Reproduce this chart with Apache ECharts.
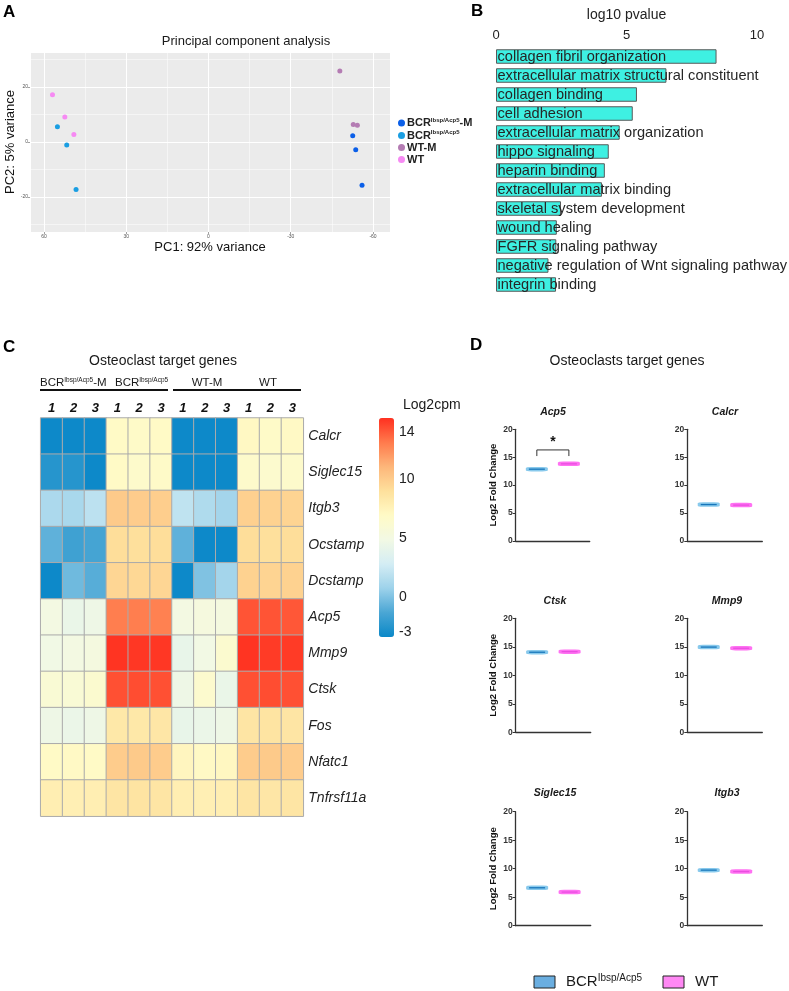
<!DOCTYPE html>
<html><head><meta charset="utf-8">
<script src="https://cdn.jsdelivr.net/npm/echarts@6/dist/echarts.min.js"></script>
<style>html,body{margin:0;padding:0;background:#fff}#c{width:789px;height:991px}</style>
</head><body><div id="c"></div>
<script>
// ---------- Panel A : PCA ----------
const pcaGroups = ['BCR-M', 'BCR', 'WT-M', 'WT'];
const pcaBCRM = [[-52.6, 2.3], [-53.7, -2.8], [-56.0, -15.7]];
const pcaBCR  = [[55.1, 5.5], [51.7, -1.1], [48.3, -17.3]];
const pcaWTM  = [[-47.9, 25.8], [-52.8, 6.4], [-54.3, 6.1]];
const pcaWT   = [[56.9, 17.2], [52.4, 9.1], [49.1, 2.7]];
const pcaMinorX = [-45, -15, 15, 45];
const pcaMinorY = [-30, -10, 10, 30];

// ---------- Panel B : GO terms ----------
const goTerms = ['collagen fibril organization', 'extracellular matrix structural constituent',
  'collagen binding', 'cell adhesion', 'extracellular matrix organization', 'hippo signaling',
  'heparin binding', 'extracellular matrix binding', 'skeletal system development', 'wound healing',
  'FGFR signaling pathway', 'negative regulation of Wnt signaling pathway', 'integrin binding'];
const goLog10P = [8.45, 6.53, 5.40, 5.24, 4.74, 4.32, 4.17, 4.06, 2.49, 2.33, 2.31, 2.01, 2.30];

// ---------- Panel C : heatmap ----------
const heatGenes = ['Calcr', 'Siglec15', 'Itgb3', 'Ocstamp', 'Dcstamp', 'Acp5', 'Mmp9', 'Ctsk', 'Fos', 'Nfatc1', 'Tnfrsf11a'];
const heatSamples = ['BCR-M 1', 'BCR-M 2', 'BCR-M 3', 'BCR 1', 'BCR 2', 'BCR 3', 'WT-M 1', 'WT-M 2', 'WT-M 3', 'WT 1', 'WT 2', 'WT 3'];
const hCalcr    = [-3.3, -3.3, -3.3, 6.9, 6.8, 6.9, -3.3, -3.3, -3.3, 7.1, 6.8, 7.0];
const hSiglec15 = [-2.5, -2.5, -3.3, 6.9, 6.6, 6.8, -3.3, -3.3, -3.3, 6.6, 6.4, 6.6];
const hItgb3    = [1.3, 1.2, 1.9, 10.1, 10.0, 9.9, 2.0, 1.4, 1.0, 9.8, 9.7, 9.6];
const hOcstamp  = [-0.8, -1.7, -1.5, 9.1, 9.0, 9.1, -0.8, -3.3, -3.3, 9.1, 9.0, 9.1];
const hDcstamp  = [-3.3, -0.4, -1.0, 9.5, 9.4, 9.5, -3.3, 0.0, 1.0, 9.7, 9.6, 9.7];
const hAcp5     = [5.0, 4.3, 4.6, 13.0, 13.0, 12.9, 5.0, 5.3, 5.2, 14.2, 14.2, 14.1];
const hMmp9     = [4.8, 5.0, 5.2, 15.1, 15.0, 15.0, 4.2, 4.9, 6.3, 15.1, 14.9, 14.9];
const hCtsk     = [6.0, 5.9, 6.3, 14.3, 14.4, 14.3, 4.6, 6.4, 4.3, 14.3, 14.4, 14.3];
const hFos      = [4.6, 4.4, 4.6, 8.4, 8.4, 8.5, 4.2, 4.4, 4.6, 8.6, 8.7, 8.6];
const hNfatc1   = [6.9, 7.0, 6.9, 10.0, 10.1, 10.0, 7.3, 7.0, 7.2, 10.0, 10.1, 10.0];
const hTnfrsf11a= [7.9, 7.8, 7.9, 8.6, 8.7, 8.6, 7.9, 7.8, 7.9, 8.6, 8.5, 8.6];
const heatRows = [hCalcr, hSiglec15, hItgb3, hOcstamp, hDcstamp, hAcp5, hMmp9, hCtsk, hFos, hNfatc1, hTnfrsf11a];
const heatScaleLabels = [-3, 0, 5, 10, 14];
const heatMin = -3.4, heatMax = 15.2;

// ---------- Panel D : violins ----------
const dGenes = ['Acp5', 'Calcr', 'Ctsk', 'Mmp9', 'Siglec15', 'Itgb3'];
const dGroups = ['BCR', 'WT'];
const dBCR = [12.85, 6.5, 14.05, 14.95, 6.65, 9.75];
const dWT  = [13.8, 6.4, 14.15, 14.75, 5.9, 9.5];
const dSig = [[0, 0, 1, 16.3, 15.2]]; // [geneIndex, fromGroup, toGroup, top, leg]

// ---------- build ----------
const F = 'Liberation Sans, Arial, Helvetica, sans-serif';
const chart = echarts.init(document.getElementById('c'));

const heatData = [];
heatRows.forEach((row, r) => row.forEach((v, c) => heatData.push([c, r, v])));

const dLayout = [
  {left: 515.7, top: 429.3, width: 74, height: 111.5, tx: 553, ty: 412},
  {left: 687.3, top: 429.3, width: 75, height: 111.5, tx: 725, ty: 412},
  {left: 515.7, top: 618.3, width: 75, height: 114, tx: 555, ty: 601},
  {left: 687.3, top: 618.3, width: 75, height: 114, tx: 727, ty: 601},
  {left: 515.7, top: 811.7, width: 75, height: 114, tx: 555, ty: 793},
  {left: 687.3, top: 811.7, width: 75, height: 114, tx: 727, ty: 793}
];

const grids = [
  {left: 30, top: 52, width: 360, height: 180, show: true, backgroundColor: '#ebebeb', borderWidth: 0},
  {left: 496, top: 47, width: 261, height: 247},
  {left: 40.7, top: 418, width: 262.6, height: 398.2},
  {left: 379, top: 418, width: 15, height: 219}
];
dLayout.forEach(l => grids.push({left: l.left, top: l.top, width: l.width, height: l.height}));

const tinyLbl = {fontSize: 5, color: '#555', fontFamily: F, margin: 2};
const xAxes = [
  {gridIndex: 0, type: 'value', inverse: true, min: -66.2, max: 65.1, splitNumber: 5,
   axisLine: {show: false, onZero: false}, axisTick: {length: 2, lineStyle: {color: '#444', width: 0.5}},
   axisLabel: Object.assign({showMinLabel: false, showMaxLabel: false}, tinyLbl),
   splitLine: {show: true, lineStyle: {color: '#fff', width: 1}},
   name: 'PC1: 92% variance', nameLocation: 'middle', nameGap: 9,
   nameTextStyle: {fontSize: 13, color: '#111', fontFamily: F}},
  {gridIndex: 1, type: 'value', position: 'top', min: 0, max: 10, interval: 5, offset: 5,
   axisLine: {onZero: false, lineStyle: {color: '#333', width: 1}}, axisTick: {length: 3, lineStyle: {color: '#333'}},
   axisLabel: {fontSize: 13, color: '#222', fontFamily: F, margin: 0.5},
   splitLine: {show: false},
   name: 'log10 pvalue', nameLocation: 'middle', nameGap: 20,
   nameTextStyle: {fontSize: 14, color: '#222', fontFamily: F}},
  {gridIndex: 2, type: 'category', data: heatSamples, position: 'top',
   axisLine: {show: false}, axisTick: {show: false},
   axisLabel: {formatter: v => v.slice(-1), fontSize: 13, fontWeight: 'bold', fontStyle: 'italic', color: '#111', fontFamily: F, margin: 3}},
  {gridIndex: 3, type: 'value', show: false}
];
const yAxes = [
  {gridIndex: 0, type: 'value', min: -32.7, max: 32.7, splitNumber: 3,
   axisLine: {show: false, onZero: false}, axisTick: {length: 2, lineStyle: {color: '#444', width: 0.5}},
   axisLabel: Object.assign({showMinLabel: false, showMaxLabel: false}, tinyLbl),
   splitLine: {show: true, lineStyle: {color: '#fff', width: 1}},
   name: 'PC2: 5% variance', nameLocation: 'middle', nameGap: 2,
   nameTextStyle: {fontSize: 13, color: '#111', fontFamily: F}},
  {gridIndex: 1, type: 'category', data: goTerms, inverse: true, show: false},
  {gridIndex: 2, type: 'category', data: heatGenes, inverse: true, position: 'right',
   axisLine: {show: false}, axisTick: {show: false},
   axisLabel: {fontSize: 14, fontStyle: 'italic', color: '#222', fontFamily: F, margin: 5}},
  {gridIndex: 3, type: 'value', min: heatMin, max: heatMax, position: 'right',
   axisLine: {show: false, onZero: false}, axisTick: {show: false}, splitLine: {show: false},
   axisLabel: {customValues: heatScaleLabels, fontSize: 14, color: '#222', fontFamily: F, margin: 5}}
];
dLayout.forEach((l, i) => {
  xAxes.push({gridIndex: 4 + i, type: 'value', min: -0.66, max: 1.65,
    axisLine: {onZero: false, lineStyle: {color: '#333', width: 1.3}}, axisTick: {show: false}, axisLabel: {show: false},
    splitLine: {show: false}});
  yAxes.push({gridIndex: 4 + i, type: 'value', min: 0, max: 20, interval: 5, position: 'left',
    axisLine: {show: true, onZero: false, lineStyle: {color: '#333', width: 1.3}},
    axisTick: {show: true, length: 3, lineStyle: {color: '#333', width: 1}},
    axisLabel: {fontSize: 8.5, fontWeight: 'bold', color: '#333', fontFamily: F, margin: 3},
    splitLine: {show: false},
    name: i % 2 === 0 ? 'Log2 Fold Change' : '', nameLocation: 'middle', nameGap: 17,
    nameTextStyle: {fontSize: 9.5, fontWeight: 'bold', color: '#111', fontFamily: F}});
});

const pcaColors = ['#0b5fe8', '#1a9ee2', '#b47cb3', '#f68af3'];
const pcaData = [pcaBCRM, pcaBCR, pcaWTM, pcaWT];
const series = [];
pcaGroups.forEach((g, i) => series.push({
  name: g, type: 'scatter', xAxisIndex: 0, yAxisIndex: 0, data: pcaData[i],
  symbolSize: 5, itemStyle: {color: pcaColors[i], opacity: 1}, z: 3,
  markLine: i === 0 ? {silent: true, symbol: ['none', 'none'], z: 1, label: {show: false},
    lineStyle: {color: '#fff', width: 0.5, type: 'solid'},
    data: pcaMinorX.map(v => ({xAxis: v})).concat(pcaMinorY.map(v => ({yAxis: v})))} : undefined
}));
series.push({
  type: 'bar', xAxisIndex: 1, yAxisIndex: 1, data: goLog10P, barWidth: 14.5,
  itemStyle: {color: '#3ef0e2', borderColor: '#5a5a5a', borderWidth: 1},
  label: {show: true, position: 'insideLeft', distance: 1.5, formatter: '{b}', color: '#262626', fontSize: 14.6, fontFamily: F},
  silent: true
});
const heatIdx = series.length;
series.push({
  type: 'heatmap', xAxisIndex: 2, yAxisIndex: 2, data: heatData,
  itemStyle: {borderColor: '#ababab', borderWidth: 1}, silent: true
});
const vFill = ['#88c9ec', '#ff70f2'];
const vLine = ['#1776ba', '#e94ee0'];
dGenes.forEach((g, i) => {
  const pts = [[0, dBCR[i]], [1, dWT[i]]];
  series.push({type: 'scatter', xAxisIndex: 4 + i, yAxisIndex: 4 + i, data: pts, silent: true,
    symbol: 'roundRect', symbolSize: [22, 4.5], itemStyle: {color: p => vFill[p.dataIndex], opacity: 1}});
  series.push({type: 'scatter', xAxisIndex: 4 + i, yAxisIndex: 4 + i, data: pts, silent: true,
    symbol: 'rect', symbolSize: [16, 1.3], itemStyle: {color: p => vLine[p.dataIndex], opacity: 1}, z: 3});
});
dSig.forEach(s => series.push({
  type: 'custom', xAxisIndex: 4 + s[0], yAxisIndex: 4 + s[0], data: [s.slice(1)], silent: true,
  renderItem: (params, api) => {
    const a = api.coord([api.value(0), api.value(2)]);
    const b = api.coord([api.value(1), api.value(2)]);
    const leg = api.coord([api.value(0), api.value(3)]);
    return {type: 'group', children: [
      {type: 'polyline', shape: {points: [[a[0], leg[1]], a, b, [b[0], leg[1]]]},
       style: {stroke: '#333', lineWidth: 1, fill: null}},
      {type: 'text', style: {text: '*', x: (a[0] + b[0]) / 2, y: a[1] - 1, align: 'center', verticalAlign: 'bottom',
        fontSize: 14, fontWeight: 'bold', fill: '#111', fontFamily: F}}
    ]};
  }
}));

const txt = (text, x, y, o) => ({type: 'text', silent: true, style: Object.assign({text, x, y, fill: '#1a1a1a',
  fontFamily: F, fontSize: 14, align: 'center', verticalAlign: 'middle'}, o || {})});
const supRich = (b, s) => ({b: {fontSize: b, fontFamily: F, fill: '#1a1a1a', lineHeight: b + 2},
  s: {fontSize: s, fontFamily: F, fill: '#1a1a1a', verticalAlign: 'top', lineHeight: s + 1}});

const graphics = [
  txt('A', 3, 12, {fontSize: 17, fontWeight: 'bold', align: 'left', fill: '#000'}),
  txt('B', 471, 11, {fontSize: 17, fontWeight: 'bold', align: 'left', fill: '#000'}),
  txt('C', 3, 347, {fontSize: 17, fontWeight: 'bold', align: 'left', fill: '#000'}),
  txt('D', 470, 345, {fontSize: 17, fontWeight: 'bold', align: 'left', fill: '#000'}),
  txt('Principal component analysis', 246, 41, {fontSize: 13}),
  txt('Osteoclast target genes', 163, 361, {fontSize: 14}),
  txt('Osteoclasts target genes', 627, 361, {fontSize: 14}),
  txt('{b|BCR}{s|Ibsp/Acp5}{b|-M}', 40, 383, {align: 'left', rich: supRich(11.5, 6.5)}),
  txt('{b|BCR}{s|Ibsp/Acp5}', 115, 383, {align: 'left', rich: supRich(11.5, 6.5)}),
  txt('WT-M', 207, 383, {fontSize: 11.5}),
  txt('WT', 268, 383, {fontSize: 11.5}),
  {type: 'line', silent: true, shape: {x1: 40, y1: 390, x2: 168, y2: 390}, style: {stroke: '#111', lineWidth: 2}},
  {type: 'line', silent: true, shape: {x1: 173, y1: 390, x2: 301, y2: 390}, style: {stroke: '#111', lineWidth: 2}},
  txt('Log2cpm', 403, 405, {align: 'left', fontSize: 14}),
  {type: 'rect', silent: true, shape: {x: 534, y: 976, width: 21, height: 12}, style: {fill: '#6aaee0', stroke: '#222', lineWidth: 1}},
  txt('{b|BCR}{s|Ibsp/Acp5}', 566, 982, {align: 'left', rich: supRich(15, 10)}),
  {type: 'rect', silent: true, shape: {x: 663, y: 976, width: 21, height: 12}, style: {fill: '#ff88f4', stroke: '#222', lineWidth: 1}},
  txt('WT', 695, 982, {align: 'left', fontSize: 15})
];
dLayout.forEach((l, i) => graphics.push(txt(dGenes[i], l.tx, l.ty,
  {fontSize: 10.5, fontWeight: 'bold', fontStyle: 'italic'})));

chart.setOption({
  animation: false,
  textStyle: {fontFamily: F},
  grid: grids, xAxis: xAxes, yAxis: yAxes, series: series,
  legend: {
    data: pcaGroups, left: 398, top: 117, orient: 'vertical', padding: 0,
    itemWidth: 7, itemHeight: 7, itemGap: 1, icon: 'circle', selectedMode: false,
    formatter: n => n === 'BCR-M' ? '{b|BCR}{s|Ibsp/Acp5}{b|-M}' : n === 'BCR' ? '{b|BCR}{s|Ibsp/Acp5}' : '{b|' + n + '}',
    textStyle: {padding: [0, 0, 0, -3], rich: {
      b: {fontSize: 11, fontWeight: 'bold', color: '#222', fontFamily: F, lineHeight: 12},
      s: {fontSize: 6, fontWeight: 'bold', color: '#222', fontFamily: F, lineHeight: 6, verticalAlign: 'top'}}}
  },
  visualMap: {
    type: 'continuous', seriesIndex: heatIdx, min: heatMin, max: heatMax,
    left: 379, top: 418, itemWidth: 15, itemHeight: 219, padding: 0,
    calculable: false, text: null, formatter: () => '', hoverLink: false,
    inRange: {color: ['#0a88c8', '#4aa6d4', '#9dd2ea', '#d4edf4', '#f2f9e4', '#fffac6',
      '#fee09c', '#fdb67a', '#ff7a4c', '#ff3020']}
  },
  graphic: {elements: graphics}
});
</script></body></html>
